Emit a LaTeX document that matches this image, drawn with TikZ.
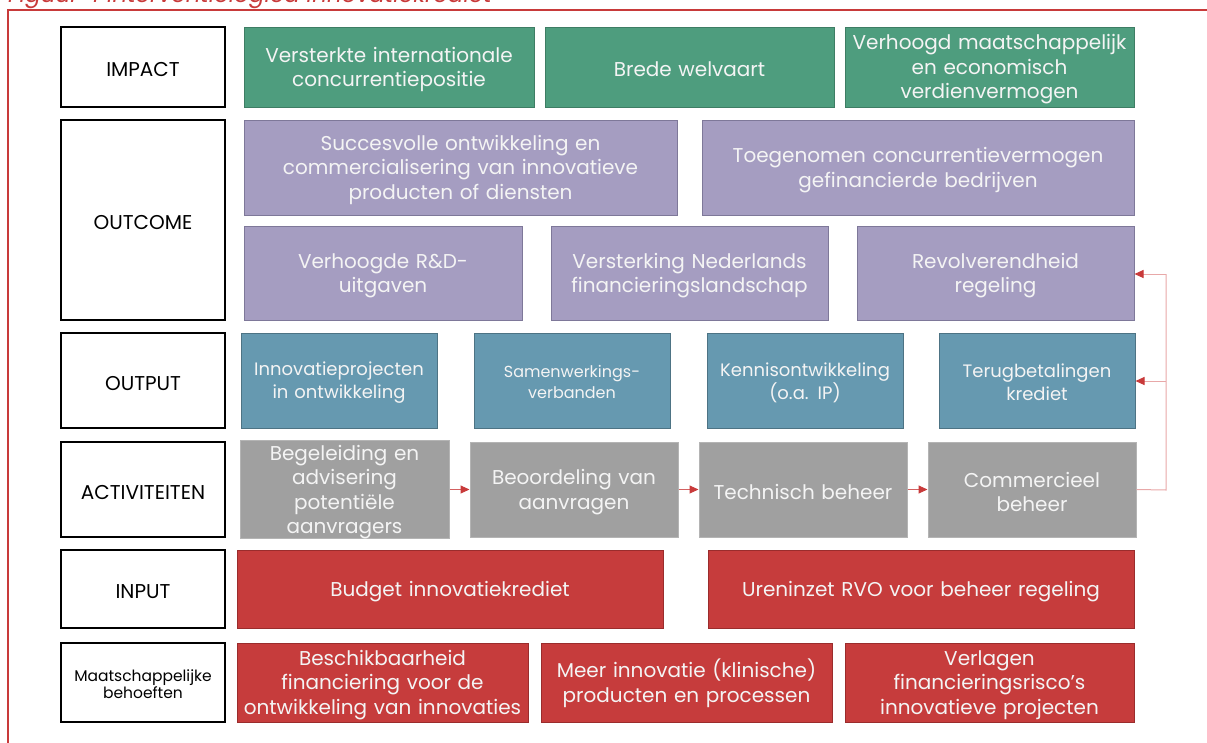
\documentclass[tikz,border=0pt]{standalone}
\usepackage{fontspec}
\setmainfont{Poppins}
\usetikzlibrary{arrows.meta}
\definecolor{cgreen}{HTML}{4E9D7E}
\definecolor{cgreenb}{HTML}{3E7D64}
\definecolor{cpurple}{HTML}{A59DC1}
\definecolor{cpurpleb}{HTML}{7E7899}
\definecolor{cteal}{HTML}{6699B0}
\definecolor{ctealb}{HTML}{4D7384}
\definecolor{cgray}{HTML}{A0A0A0}
\definecolor{cgrayb}{HTML}{B4B4B4}
\definecolor{cred}{HTML}{C63C3C}
\definecolor{credb}{HTML}{9A2C2C}
\definecolor{cframe}{HTML}{C83A3A}
\definecolor{clink}{HTML}{E8A8A8}
\definecolor{ctext}{HTML}{F4F4F4}
\begin{document}
\begin{tikzpicture}[x=1pt,y=-1pt,
  base/.style={rectangle, inner sep=0pt, align=center, line width=1pt, execute at begin node={\rule{0pt}{1em}}},
  lbl/.style={base, draw=black, line width=1.5pt, fill=white, text=black, minimum width=164pt, text width=160pt, font=\fontsize{20}{24}\selectfont},
  cbox/.style={base, text=ctext, font=\fontsize{20}{24.5}\selectfont},
  gbox/.style={cbox, fill=cgreen, draw=cgreenb, minimum height=80pt},
  pbox/.style={cbox, fill=cpurple, draw=cpurpleb},
  tbox/.style={cbox, fill=cteal, draw=ctealb, minimum height=95pt, minimum width=196pt, font=\fontsize{18}{23}\selectfont},
  abox/.style={cbox, fill=cgray, draw=cgrayb, minimum height=95pt},
  rbox/.style={cbox, fill=cred, draw=credb},
  flow/.style={draw=cframe!80!white, line width=1pt, -{Triangle[length=9pt,width=8pt,color=cframe,fill=cframe]}},
  back/.style={draw=clink, line width=1pt},
  backarr/.style={back, -{Triangle[length=9pt,width=8pt,color=cframe,fill=cframe]}}
]
\useasboundingbox (0,0) rectangle (1207,742);
% frame and caption
\draw[cframe, line width=2pt] (8,760) -- (8,10) -- (1220,10);
\node[anchor=base east, text=cframe, font=\fontsize{23}{26}\selectfont\itshape, inner sep=0pt] (cap) at (492,2) {Figuur 4 Interventielogica innovatiekrediet};

% labels
\node[lbl, minimum height=80pt] (limp) at (143,67) {IMPACT};
\node[lbl, minimum height=200pt] (lout) at (143,220) {OUTCOME};
\node[lbl, minimum height=95pt] (loutp) at (143,380.5) {OUTPUT};
\node[lbl, minimum height=95pt] (lact) at (143,489.5) {ACTIVITEITEN};
\node[lbl, minimum height=78pt] (linp) at (143,589) {INPUT};
\node[lbl, minimum height=79pt, font=\fontsize{15.5}{17}\selectfont] (lbeh) at (143,682.5) {Maatschappelijke\\behoeften};

% impact
\node[gbox, minimum width=290pt, text width=284pt] (i1) at (389,67) {Versterkte internationale\\concurrentiepositie};
\node[gbox, minimum width=289pt, text width=284pt] (i2) at (689.5,67) {Brede welvaart};
\node[gbox, minimum width=289pt, text width=284pt] (i3) at (989.5,67) {Verhoogd maatschappelijk\\en economisch\\verdienvermogen};

% outcome
\node[pbox, minimum width=433pt, minimum height=95pt, text width=425pt] (o1) at (460.5,167.5) {Succesvolle ontwikkeling en\\commercialisering van innovatieve\\producten of diensten};
\node[pbox, minimum width=432pt, minimum height=95pt, text width=425pt] (o2) at (918,167.5) {Toegenomen concurrentievermogen\\gefinancierde bedrijven};
\node[pbox, minimum width=278pt, minimum height=94pt, text width=272pt] (o3) at (383,273) {Verhoogde R\&D-\\uitgaven};
\node[pbox, minimum width=277pt, minimum height=94pt, text width=272pt] (o4) at (689.5,273) {Versterking Nederlands\\financieringslandschap};
\node[pbox, minimum width=277pt, minimum height=94pt, text width=272pt] (o5) at (995.5,273) {Revolverendheid\\regeling};

% output
\node[tbox, text width=192pt] (p1) at (339,380.5) {Innovatieprojecten\\in ontwikkeling};
\node[tbox, text width=192pt, font=\fontsize{16}{21}\selectfont] (p2) at (572,380.5) {Samenwerkings-\\verbanden};
\node[tbox, text width=192pt] (p3) at (805,380.5) {Kennisontwikkeling\\(o.a. IP)};
\node[tbox, text width=192pt] (p4) at (1037,380.5) {Terugbetalingen\\krediet};

% activities
\node[abox, minimum width=209pt, text width=204pt] (a1) at (344.5,489.5) {Begeleiding en\\advisering\\potentiële\\aanvragers};
\node[abox, minimum width=208pt, text width=204pt] (a2) at (574,489.5) {Beoordeling van\\aanvragen};
\node[abox, minimum width=208pt, text width=204pt] (a3) at (803,489.5) {Technisch beheer};
\node[abox, minimum width=208pt, text width=204pt] (a4) at (1032,489.5) {Commercieel\\beheer};

% input
\node[rbox, minimum width=426pt, minimum height=78pt, text width=420pt] (n1) at (450,589) {Budget innovatiekrediet};
\node[rbox, minimum width=426pt, minimum height=78pt, text width=420pt] (n2) at (921,589) {Ureninzet RVO voor beheer regeling};

% needs
\node[rbox, minimum width=291pt, minimum height=79pt, text width=288pt] (b1) at (382.5,682.5) {Beschikbaarheid\\financiering voor de\\ontwikkeling van innovaties};
\node[rbox, minimum width=291pt, minimum height=79pt, text width=288pt] (b2) at (686.5,682.5) {Meer innovatie (klinische)\\producten en processen};
\node[rbox, minimum width=289pt, minimum height=79pt, text width=286pt] (b3) at (989.5,682.5) {Verlagen\\financieringsrisco’s\\innovatieve projecten};

% flow arrows
\draw[flow] (a1.east) -- (a2.west);
\draw[flow] (a2.east) -- (a3.west);
\draw[flow] (a3.east) -- (a4.west);

% feedback loop
\coordinate (fb) at (1166,490);
\coordinate (ft) at (1166,274);
\coordinate (fm) at (1166,381);
\draw[back] (a4.east) -- (fb) -- (ft);
\draw[backarr] (ft) -- (ft -| o5.east);
\draw[backarr] (fm) -- (fm -| p4.east);
\end{tikzpicture}
\end{document}
